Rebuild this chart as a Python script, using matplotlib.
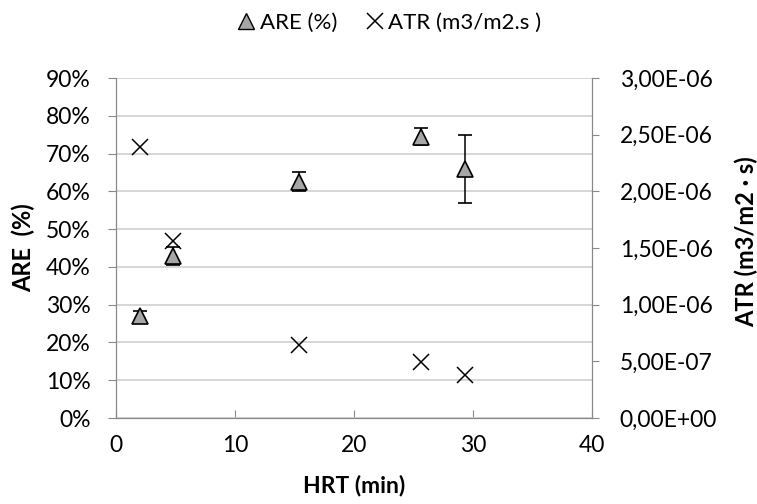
import numpy as np
import matplotlib
matplotlib.use("Agg")
import matplotlib.pyplot as plt
from matplotlib.lines import Line2D
from matplotlib.ticker import FuncFormatter, MultipleLocator

plt.rcParams['font.family'] = ['Lato', 'DejaVu Sans']

# Datos
hrt = [2.0, 4.8, 15.4, 25.6, 29.3]
are = [27.0, 42.8, 62.6, 74.5, 66.0]
are_err = [1.2, 2.4, 2.5, 2.3, 9.0]
atr = [2.39e-6, 1.56e-6, 6.4e-7, 4.9e-7, 3.8e-7]

grey = "#a6a6a6"
fig = plt.figure(figsize=(7.57, 5.04), dpi=100)
ax = fig.add_axes([0.1532, 0.1706, 0.782 - 0.1532, 0.8452 - 0.1706])
ax2 = ax.twinx()

ax.errorbar(hrt, are, yerr=are_err, fmt='^', color='black', ecolor='black',
            elinewidth=1.1, capsize=5, capthick=1.1, markersize=11.5,
            markerfacecolor=grey, markeredgecolor='black', markeredgewidth=1.2,
            zorder=3)
ax2.plot(hrt, atr, 'x', color='black', markersize=12, markeredgewidth=1.1)

ax.set_xlim(0, 40)
ax.set_ylim(0, 90)
ax2.set_ylim(0, 3e-6)
ax.xaxis.set_major_locator(MultipleLocator(10))
ax.yaxis.set_major_locator(MultipleLocator(10))
ax2.yaxis.set_major_locator(MultipleLocator(0.5e-6))
ax.yaxis.set_major_formatter(FuncFormatter(lambda v, p: f"{v:.0f}%"))
ax2.yaxis.set_major_formatter(FuncFormatter(lambda v, p: f"{v:.2E}".replace('.', ',')))

ax.grid(axis='y', color='#d0d0d0', linewidth=1.2)
ax.set_axisbelow(True)
for a in (ax, ax2):
    for s in a.spines.values():
        s.set_color('#888888')
    a.spines['top'].set_visible(False)
ax.tick_params(axis='y', direction='out', length=6, color='#888888', labelsize=16.5, pad=12)
ax.tick_params(axis='x', direction='in', length=6, color='#888888', labelsize=16.5, pad=12)
ax2.tick_params(axis='y', direction='out', length=5, color='#888888', labelsize=16.5, pad=15)

ax.set_xlabel('HRT (min)', fontsize=16.5, fontweight='bold')
ax.xaxis.set_label_coords(0.5, -0.168)
ax.set_ylabel('ARE  (%)', fontsize=17, fontweight='bold')
ax.yaxis.set_label_coords(-0.17, 0.5)
ax2.set_ylabel('ATR (m3/m2 \u00b7 s)', fontsize=17, fontweight='bold')
ax2.yaxis.set_label_coords(1.3, 0.52)

handles = [Line2D([], [], marker='^', linestyle='none', markersize=11,
                  markerfacecolor=grey, markeredgecolor='black'),
           Line2D([], [], marker='x', linestyle='none', markersize=12,
                  color='black', markeredgewidth=1.1)]
fig.legend(handles, ['ARE (%)', 'ATR (m3/m2.s )'], loc='center',
           bbox_to_anchor=(0.513, 0.955), ncol=2, frameon=False,
           fontsize=16, handletextpad=0.1, columnspacing=1.2, handlelength=1)

fig.savefig("out.png", dpi=100, facecolor='white')
